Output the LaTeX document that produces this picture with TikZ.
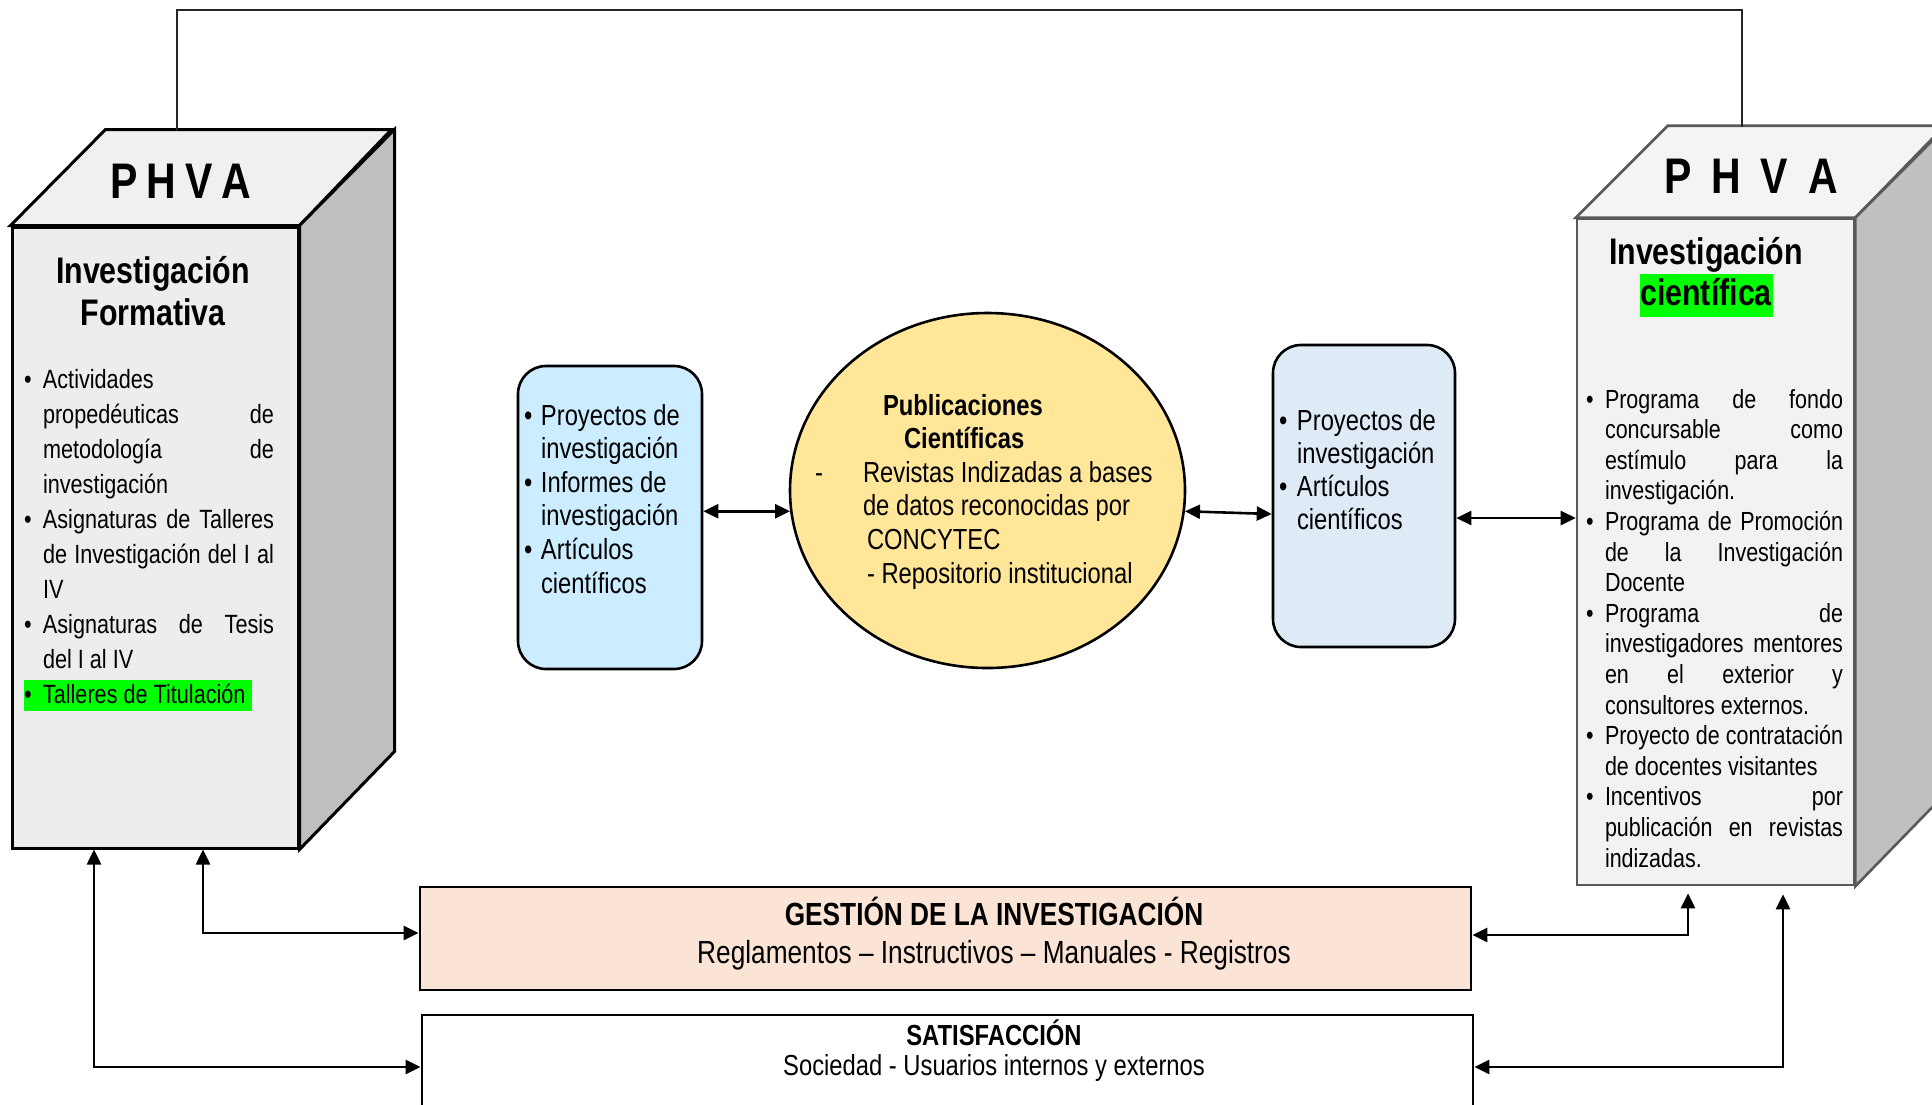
\documentclass[tikz,border=0pt]{standalone}
\usepackage{fontspec}
\setmainfont{Liberation Sans}[FakeStretch=0.82]
\usetikzlibrary{arrows.meta,shapes.geometric,calc}
\definecolor{flL}{HTML}{EDEDED}
\definecolor{ftL}{HTML}{F0F0F0}
\definecolor{fsL}{HTML}{BFBFBF}
\definecolor{flR}{HTML}{F2F2F2}
\definecolor{ftR}{HTML}{F4F4F4}
\definecolor{fsR}{HTML}{C0C0C0}
\definecolor{bdR}{HTML}{595959}
\definecolor{blueA}{HTML}{CCECFF}
\definecolor{blueB}{HTML}{DEEBF7}
\definecolor{yell}{HTML}{FFE699}
\definecolor{peach}{HTML}{FBE4D5}
\definecolor{hlgreen}{HTML}{00FF00}
\newcommand\fs[2]{\fontsize{#1}{#2}\selectfont}
\newcommand\bul[1]{\makebox[#1][l]{\textbullet}}
\newcommand\jus[2]{\makebox[#1][s]{#2}}
\begin{document}
\begin{tikzpicture}[x=1pt,y=-1pt,
  lst/.style={anchor=base west, inner sep=0pt, outer sep=0pt},
  ctr/.style={anchor=base, inner sep=0pt, outer sep=0pt},
  conn/.style={line width=2.6pt, {Triangle[length=15pt,width=14pt]}-{Triangle[length=15pt,width=14pt]}},
  thinline/.style={line width=1.3pt, draw=black!85},
  faceL/.style={draw=black, line width=3pt, line join=miter},
  faceR/.style={draw=bdR, line width=2.6pt, line join=miter},
  rbox/.style={draw=black, line width=2.6pt, rounded corners=28pt, inner sep=0pt},
  flat/.style={draw=black, line width=2.8pt, inner sep=0pt, minimum width=1051pt}
]
\useasboundingbox (0,0) rectangle (1932,1104);
\fill[white] (0,0) rectangle (1932,1104);
\clip (0,0) rectangle (1932,1104);

% ---------- left PHVA box ----------
\node[faceL, fill=flL, minimum width=286pt, minimum height=621pt, inner sep=0pt] (lf) at (155,537.5) {};
\filldraw[faceL, fill=ftL] (lf.north west) -- ++(95,-96) -- ++(286,0) -- (lf.north east) -- cycle;
\filldraw[faceL, fill=fsL] (lf.north east) -- ++(95,-96) -- ++(0,622) -- (lf.south east) -- cycle;
\node[ctr, font={\bfseries\fs{50}{54}}] (lphva) at (181,198) {P\hspace{9pt}H\hspace{9pt}V\hspace{9pt}A};
\node[ctr, font={\bfseries\fs{37}{42}}] (ltitle) at (153,283) {\begin{tabular}[t]{@{}c@{}}Investigación\\Formativa\end{tabular}};
\fill[hlgreen] (24,680) rectangle (252,711);
\node[lst, font={\fs{26.4}{35}}] (llist) at (24,388) {\begin{tabular}[t]{@{}l@{}}
\bul{19pt}Actividades\\
\hspace*{19pt}\jus{231pt}{propedéuticas de}\\
\hspace*{19pt}\jus{231pt}{metodología de}\\
\hspace*{19pt}investigación\\
\bul{19pt}\jus{231pt}{Asignaturas de Talleres}\\
\hspace*{19pt}\jus{231pt}{de Investigación del I al}\\
\hspace*{19pt}IV\\
\bul{19pt}\jus{231pt}{Asignaturas de Tesis}\\
\hspace*{19pt}del I al IV\\
\bul{19pt}Talleres de Titulación
\end{tabular}};

% ---------- right PHVA box ----------
\node[faceR, fill=flR, minimum width=277pt, minimum height=666pt, inner sep=0pt] (rf) at (1715.5,552) {};
\filldraw[faceR, fill=ftR] (rf.north west) -- ++(92,-92) -- ++(277,0) -- (rf.north east) -- cycle;
\filldraw[faceR, fill=fsR] (rf.north east) -- ++(92,-92) -- ++(0,666) -- (rf.south east) -- cycle;
\node[ctr, font={\bfseries\fs{50}{54}}] (rphva) at (1751,193) {P\hspace{20pt}H\hspace{20pt}V\hspace{20pt}A};
\fill[hlgreen] (1640,274) rectangle (1773,317);
\node[ctr, font={\bfseries\fs{37}{41}}] (rtitle) at (1706,264) {\begin{tabular}[t]{@{}c@{}}Investigación\\científica\end{tabular}};
\node[lst, font={\fs{26.2}{30.6}}] (rlist) at (1586,408) {\begin{tabular}[t]{@{}l@{}}
\bul{19pt}\jus{238pt}{Programa de fondo}\\
\hspace*{19pt}\jus{238pt}{concursable como}\\
\hspace*{19pt}\jus{238pt}{estímulo para la}\\
\hspace*{19pt}investigación.\\
\bul{19pt}\jus{238pt}{Programa de Promoción}\\
\hspace*{19pt}\jus{238pt}{de la Investigación}\\
\hspace*{19pt}Docente\\
\bul{19pt}\jus{238pt}{Programa de}\\
\hspace*{19pt}\jus{238pt}{investigadores mentores}\\
\hspace*{19pt}\jus{238pt}{en el exterior y}\\
\hspace*{19pt}consultores externos.\\
\bul{19pt}\jus{238pt}{Proyecto de contratación}\\
\hspace*{19pt}de docentes visitantes\\
\bul{19pt}\jus{238pt}{Incentivos por}\\
\hspace*{19pt}\jus{238pt}{publicación en revistas}\\
\hspace*{19pt}indizadas.
\end{tabular}};

% ---------- top connector ----------
\coordinate (ltop) at (177,131);
\coordinate (rtop) at (1742,127);
\draw[thinline] (ltop) -- (ltop |- 0,10) -| (rtop);

% ---------- middle row ----------
\node[rbox, fill=blueA, minimum width=184pt, minimum height=303pt] (lb) at (610,517.5) {};
\node[lst, font={\fs{29}{33.6}}] (lbt) at (524,425) {\begin{tabular}[t]{@{}l@{}}
\bul{17pt}Proyectos de\\
\hspace*{17pt}investigación\\
\bul{17pt}Informes de\\
\hspace*{17pt}investigación\\
\bul{17pt}Artículos\\
\hspace*{17pt}científicos
\end{tabular}};

\node[ellipse, draw=black, line width=2.6pt, fill=yell, minimum width=395pt, minimum height=355pt, inner sep=0pt] (ell) at (987.5,490.5) {};
\node[lst, font={\fs{29}{33.6}}] (ellt) at (815,415) {\begin{tabular}[t]{@{}l@{}}
\hspace*{68pt}\textbf{Publicaciones}\\
\hspace*{89pt}\textbf{Científicas}\\
\makebox[48pt][l]{-}Revistas Indizadas a bases\\
\hspace*{48pt}de datos reconocidas por\\
\hspace*{52pt}CONCYTEC\\
\hspace*{52pt}- Repositorio institucional
\end{tabular}};

\node[rbox, fill=blueB, minimum width=182pt, minimum height=302pt] (rb) at (1364,496) {};
\node[lst, font={\fs{29}{33.3}}] (rbt) at (1279,430) {\begin{tabular}[t]{@{}l@{}}
\bul{18pt}Proyectos de\\
\hspace*{18pt}investigación\\
\bul{18pt}Artículos\\
\hspace*{18pt}científicos
\end{tabular}};

\draw[conn] (lb.east |- ell.186) -- (ell.186);
\draw[conn] (ell.-6) -- (rb.west |- 0,514);
\draw[conn] (rb.east |- 0,518) -- (rf.west |- 0,518);

% ---------- bottom bars ----------
\node[flat, fill=peach, minimum height=103pt] (gest) at (945.5,938.5) {};
\node[ctr, font={\fs{32}{38}}] (gestt) at (994,925) {\begin{tabular}[t]{@{}c@{}}\textbf{GESTIÓN DE LA INVESTIGACIÓN}\\Reglamentos – Instructivos – Manuales - Registros\end{tabular}};
\node[flat, fill=white, minimum height=110pt] (sat) at (947.5,1070) {};
\node[ctr, font={\fs{29}{30}}] (satt) at (994,1045) {\begin{tabular}[t]{@{}c@{}}\textbf{SATISFACCIÓN}\\Sociedad - Usuarios internos y externos\end{tabular}};

\coordinate (r1) at ($(rf.south -| 1688,0)+(0,7)$);
\coordinate (r2) at ($(rf.south -| 1783,0)+(0,8)$);
\draw[conn] (lf.south -| 203,0) |- (gest.west |- 0,933);
\draw[conn] (lf.south -| 94,0) |- (sat.west |- 0,1067);
\draw[conn] (r1) |- (gest.east |- 0,935);
\draw[conn] (r2) |- (sat.east |- 0,1067);
\end{tikzpicture}
\end{document}
